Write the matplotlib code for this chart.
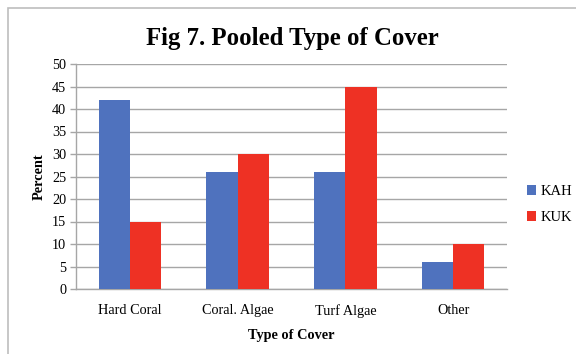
import matplotlib
matplotlib.use("Agg")
import matplotlib.pyplot as plt
import numpy as np
from matplotlib.patches import Rectangle

categories = ["Hard Coral", "Coral. Algae", "Turf Algae", "Other"]
kah = [42, 26, 26, 6]
kuk = [15, 30, 45, 10]
yticks = [0, 5, 10, 15, 20, 25, 30, 35, 40, 45, 50]

blue = "#4F72BE"
red = "#EE3124"
grid_gray = "#A6A6A6"

plt.rcParams["font.family"] = ["Liberation Serif", "DejaVu Serif"]

fig = plt.figure(figsize=(5.76, 3.54), dpi=100)
fig.patch.set_facecolor("white")

# Outer frame of the chart area
fig.patches.append(Rectangle((8 / 576, -0.1), 1.2, 1 - 8 / 354 + 0.1,
                             transform=fig.transFigure, fill=False,
                             edgecolor="#BDBDBD", linewidth=1.2))

ax = fig.add_axes([76 / 576, 1 - 289 / 354, (507 - 76) / 576, (289 - 64) / 354])

x = np.arange(len(categories))
w = 0.29
ax.bar(x - w / 2, kah, width=w, color=blue, label="KAH", zorder=3)
ax.bar(x + w / 2, kuk, width=w, color=red, label="KUK", zorder=3)

ax.set_xlim(-0.5, len(categories) - 0.5)
ax.set_ylim(0, 50)
ax.set_yticks(yticks)
ax.set_yticklabels([str(v) for v in yticks], fontsize=10.3)
ax.set_xticks(x)
ax.set_xticklabels(categories, fontsize=10.3)
ax.tick_params(axis="x", length=0, pad=11)
ax.tick_params(axis="y", length=4, width=1, color=grid_gray, pad=3)

ax.yaxis.grid(True, color=grid_gray, linewidth=1, zorder=0)
ax.set_axisbelow(True)
for s in ["top", "right"]:
    ax.spines[s].set_visible(False)
for s in ["left", "bottom"]:
    ax.spines[s].set_color(grid_gray)
    ax.spines[s].set_linewidth(1)

ax.set_ylabel("Percent", fontsize=10.3, fontweight="bold", labelpad=5)
ax.set_xlabel("Type of Cover", fontsize=10.3, fontweight="bold", labelpad=8)

fig.text(292 / 576, 1 - 38 / 354, "Fig 7. Pooled Type of Cover",
         ha="center", va="center", fontsize=17.8, fontweight="bold")

ax.legend(loc="center left", bbox_to_anchor=(1.016, 0.375), frameon=False,
          fontsize=10.5, handlelength=0.6, handleheight=0.6, handletextpad=0.3,
          labelspacing=0.9)

fig.savefig("out.png", dpi=100)
